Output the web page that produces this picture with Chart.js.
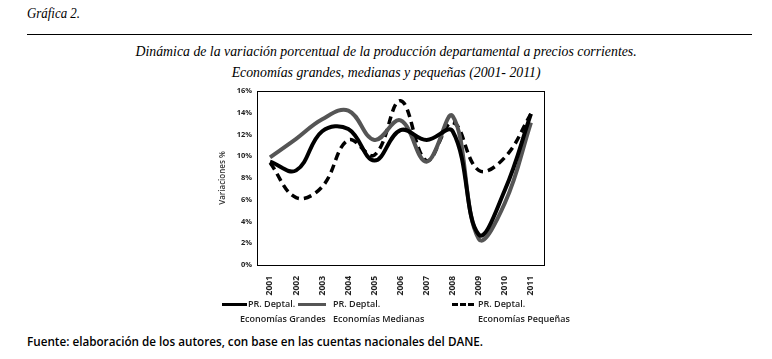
<!DOCTYPE html>
<html><head><meta charset="utf-8">
<script src="https://cdn.jsdelivr.net/npm/chart.js@4/dist/chart.umd.min.js"></script>
<style>
html,body{margin:0;padding:0;background:#fff;width:772px;height:359px;overflow:hidden;position:relative;font-family:"Open Sans",sans-serif;}
.abs{position:absolute;}
#hdr{left:27px;top:5px;font-family:"Liberation Serif",serif;font-style:italic;font-size:15px;color:#000;transform:scaleX(0.86);transform-origin:0 0;}
#rule{left:27px;top:34px;width:725px;height:0;border-top:1.5px solid #000;}
#ttl{left:0;width:772px;top:40px;text-align:center;font-family:"Liberation Serif",serif;font-style:italic;font-size:15.5px;line-height:21px;color:#000;transform:scaleX(0.89);transform-origin:387px 0;}
#wrap{left:218px;top:80px;width:342px;height:220px;}
.leg{top:296px;font-size:9px;line-height:15px;color:#222;font-weight:600;}
.sw{position:absolute;top:7px;height:0;}
#foot{left:27px;top:333px;font-size:11.7px;font-weight:600;color:#000;}
</style></head><body>
<div id="hdr" class="abs">Gráfica 2.</div>
<div id="rule" class="abs"></div>
<div id="ttl" class="abs">Dinámica de la variación porcentual de la producción departamental a precios corrientes.<br>Economías grandes, medianas y pequeñas (2001- 2011)</div>
<div id="wrap" class="abs"><canvas id="c"></canvas></div>
<div class="abs leg" style="left:222px;width:130px;"><span class="sw" style="left:0;width:25px;border-top:3.5px solid #000;"></span><span style="margin-left:26px">PR. Deptal.</span><br><span style="margin-left:18px">Economías Grandes</span></div>
<div class="abs leg" style="left:298px;width:160px;"><span class="sw" style="left:0;width:28px;border-top:3.5px solid #555;"></span><span style="margin-left:35px">PR. Deptal.</span><br><span style="margin-left:35px">Economías Medianas</span></div>
<div class="abs leg" style="left:452px;width:140px;"><span class="sw" style="left:0;width:22px;border-top:3.5px dashed #000;"></span><span style="margin-left:26px">PR. Deptal.</span><br><span style="margin-left:26px">Economías Pequeñas</span></div>
<div id="foot" class="abs">Fuente: elaboración de los autores, con base en las cuentas nacionales del DANE.</div>
<script>
const years = ["2001","2002","2003","2004","2005","2006","2007","2008","2009","2010","2011"];
const grandes = [9.5, 8.7, 12.3, 12.5, 9.6, 12.4, 11.5, 12.3, 2.8, 6.9, 13.9];
const medianas = [9.9, 11.6, 13.4, 14.2, 11.5, 13.3, 9.5, 13.7, 2.4, 5.7, 13.1];
const pequenas = [9.4, 6.2, 7.2, 11.5, 10.1, 15.1, 9.6, 13.1, 8.7, 9.9, 13.9];
const yTicks = [0,2,4,6,8,10,12,14,16];

const boxPlugin = {
  id:'box',
  afterDraw(chart){
    const a = chart.chartArea, ctx = chart.ctx;
    ctx.save(); ctx.strokeStyle='#000'; ctx.lineWidth=1;
    ctx.strokeRect(Math.round(a.left)+0.5, Math.round(a.top)+0.5, Math.round(a.right-a.left), Math.round(a.bottom-a.top));
    ctx.restore();
  }
};
new Chart(document.getElementById('c'), {
  type:'line',
  data:{labels:years, datasets:[
    {label:'PR. Deptal. Economías Grandes', data:grandes, borderColor:'#000', borderWidth:4, tension:0.4, pointRadius:0, fill:false},
    {label:'PR. Deptal. Economías Medianas', data:medianas, borderColor:'#555', borderWidth:4, tension:0.4, pointRadius:0, fill:false},
    {label:'PR. Deptal. Economías Pequeñas', data:pequenas, borderColor:'#000', borderWidth:3.5, borderDash:[8,5], tension:0.4, pointRadius:0, fill:false}
  ]},
  options:{
    responsive:true, maintainAspectRatio:false, animation:false,
    layout:{padding:{left:0,right:16,top:11,bottom:0}},
    plugins:{legend:{display:false}, tooltip:{enabled:false}},
    scales:{
      x:{offset:true, grid:{display:false}, border:{display:false},
         ticks:{minRotation:90, maxRotation:90, color:'#222', font:{family:'Open Sans', size:8.5, weight:'bold'}, padding:3},
         afterFit(s){ s.height = 35; }},
      y:{min:0, max:16, grid:{display:false, drawTicks:false}, border:{display:false},
         afterBuildTicks(s){ s.ticks = yTicks.map(v=>({value:v})); },
         ticks:{color:'#222', font:{family:'Open Sans', size:7.5, weight:'bold'}, padding:5, callback:v=>v+'%'},
         title:{display:true, text:'Variaciones %', color:'#333', font:{family:'Open Sans', size:8, weight:'600'}, padding:{top:0,bottom:0}},
         afterFit(s){ s.width = 39; }}
    }
  },
  plugins:[boxPlugin]
});
</script>
</body></html>
